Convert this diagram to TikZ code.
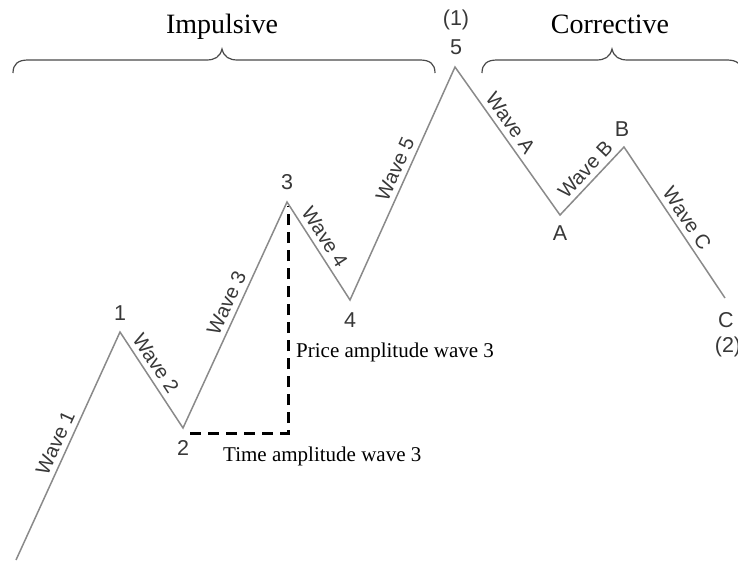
\documentclass[tikz,border=0pt]{standalone}
\usepackage{fontspec}
\setmainfont{Liberation Serif}
\newfontfamily\lblfont{Liberation Sans}
\definecolor{waveline}{HTML}{8A8A8A}
\definecolor{labelgray}{HTML}{383838}
\definecolor{bracegray}{HTML}{4A4A4A}
\begin{document}
\begin{tikzpicture}[x=1pt,y=-1pt,
  wave/.style={draw=waveline, line width=1.5pt, line join=miter},
  wlabel/.style={font=\lblfont\fontsize{20}{20}\selectfont, text=labelgray, sloped, above=5pt, inner sep=0pt},
  ptlabel/.style={font=\lblfont\fontsize{21.5}{21.5}\selectfont, text=labelgray, inner sep=0pt},
  serif/.style={font=\fontsize{21}{21}\selectfont, inner sep=0pt, anchor=base west},
  head/.style={font=\fontsize{28}{28}\selectfont, inner sep=0pt, anchor=base},
  bracestyle/.style={draw=bracegray, line width=1.2pt},
  amp/.style={draw=black, line width=3pt, dash pattern=on 11pt off 7pt}
]
\useasboundingbox (0,0) rectangle (738,560);

% wave points
\coordinate (p0) at (16,560);
\coordinate (p1) at (120,332);
\coordinate (p2) at (183,428);
\coordinate (p3) at (287,202);
\coordinate (p4) at (350,300);
\coordinate (p5) at (455,67);
\coordinate (pA) at (560,215);
\coordinate (pB) at (624,147);
\coordinate (pC) at (725,298);

% dashed amplitude lines
\coordinate (hstart) at (190,433);
\coordinate (corner) at (288,433);
\coordinate (vtop) at (288,206);
\draw[amp] (hstart) -- (corner) -- (vtop);

% waves
\draw[wave] (p0)
  -- node[wlabel,pos=0.49] (w1) {Wave 1} (p1)
  -- node[wlabel,pos=0.40] (w2) {Wave 2} (p2)
  -- node[wlabel,pos=0.53] (w3) {Wave 3} (p3)
  -- node[wlabel,pos=0.43] (w4) {Wave 4} (p4)
  -- node[wlabel,pos=0.54] (w5) {Wave 5} (p5)
  -- node[wlabel,pos=0.43] (wA) {Wave A} (pA)
  -- node[wlabel,pos=0.54] (wB) {Wave B} (pB)
  -- node[wlabel,pos=0.52] (wC) {Wave C} (pC);

% point labels
\node[ptlabel] (l1) at (120,313) {1};
\node[ptlabel] (l2) at (183,448) {2};
\node[ptlabel] (l3) at (287,182) {3};
\node[ptlabel] (l4) at (350,320) {4};
\node[ptlabel] (l5) at (456,47) {5};
\node[ptlabel] (l5b) at (456,20) {(1)};
\node[ptlabel] (lA) at (560,233) {A};
\node[ptlabel] (lB) at (622,129) {B};
\node[ptlabel] (lC) at (726,320) {C};
\node[ptlabel] (lC2) at (728,347) {(2)};

% amplitude texts
\node[serif] (price) at (296,357) {Price amplitude wave 3};
\node[serif] (time) at (223,461) {Time amplitude wave 3};

% headers
\node[head] (imp) at (222,33) {Impulsive};
\node[head] (cor) at (610,33) {Corrective};

% braces
\draw[bracestyle] (13,73) .. controls (13,64) and (18,60) .. (28,60) -- (206,60)
  .. controls (215,60) and (220,57) .. (222,49)
  .. controls (224,57) and (229,60) .. (238,60) -- (420,60)
  .. controls (430,60) and (435,64) .. (435,73);
\draw[bracestyle] (482,73) .. controls (482,64) and (487,60) .. (497,60) -- (596,60)
  .. controls (605,60) and (610,57) .. (612,49)
  .. controls (614,57) and (619,60) .. (628,60) -- (727,60)
  .. controls (737,60) and (742,64) .. (742,73);
\end{tikzpicture}
\end{document}
